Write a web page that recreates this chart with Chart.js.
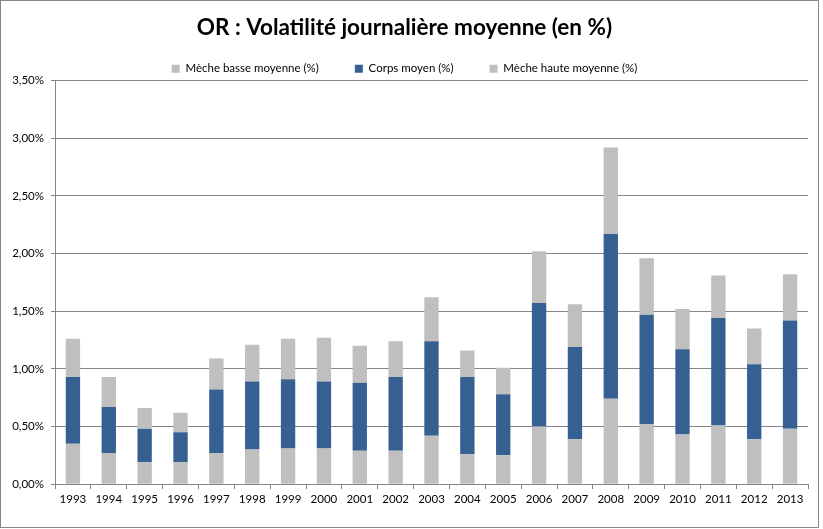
<!DOCTYPE html>
<html>
<head>
<meta charset="utf-8">
<script src="https://cdn.jsdelivr.net/npm/chart.js@4/dist/chart.umd.min.js"></script>
<style>
  body { margin: 0; background: #fff; }
  #wrap { position: absolute; left: 0; top: 0; width: 817px; height: 526px; border: 1px solid #868686; }
</style>
</head>
<body>
<div id="wrap"><canvas id="chart" width="817" height="526"></canvas></div>
<script>
const years = ['1993', '1994', '1995', '1996', '1997', '1998', '1999', '2000', '2001', '2002', '2003',
  '2004', '2005', '2006', '2007', '2008', '2009', '2010', '2011', '2012', '2013'];

// values in %
const mecheBasse = [0.35, 0.27, 0.19, 0.19, 0.27, 0.30, 0.31, 0.31, 0.29, 0.29, 0.42,
  0.26, 0.25, 0.50, 0.39, 0.74, 0.52, 0.43, 0.51, 0.39, 0.48];
const corps = [0.58, 0.40, 0.29, 0.26, 0.55, 0.59, 0.60, 0.58, 0.59, 0.64, 0.82,
  0.67, 0.53, 1.07, 0.80, 1.43, 0.95, 0.74, 0.93, 0.65, 0.94];
const mecheHaute = [0.33, 0.26, 0.18, 0.17, 0.27, 0.32, 0.35, 0.38, 0.32, 0.31, 0.38,
  0.23, 0.23, 0.45, 0.37, 0.75, 0.49, 0.35, 0.37, 0.31, 0.40];

const yTicks = [0, 0.5, 1, 1.5, 2, 2.5, 3, 3.5];

const GRAY = '#BFBFBF';
const BLUE = '#376092';
const LINE = '#868686';
const FONT = 'Lato';

const fmtPct = (v) => v.toFixed(2).replace('.', ',') + '%';

// legend needs wide gaps between items but not that much height
const legendFit = {
  id: 'legendFit',
  afterInit(chart) {
    const lg = chart.legend;
    const fit = lg.fit;
    lg.fit = function () {
      fit.call(this);
      this.height -= 4;
    };
  }
};

const ctx = document.getElementById('chart').getContext('2d');
new Chart(ctx, {
  type: 'bar',
  data: {
    labels: years,
    datasets: [
      { label: 'Mèche basse moyenne (%)', data: mecheBasse, backgroundColor: GRAY },
      { label: 'Corps moyen (%)', data: corps, backgroundColor: BLUE },
      { label: 'Mèche haute moyenne (%)', data: mecheHaute, backgroundColor: GRAY },
    ],
  },
  plugins: [legendFit],
  options: {
    responsive: false,
    animation: false,
    datasets: {
      bar: { categoryPercentage: 1, barPercentage: 0.4 }
    },
    layout: { padding: { left: 0, right: 10, top: 0, bottom: 18 } },
    plugins: {
      title: {
        display: true,
        text: 'OR : Volatilité journalière moyenne (en %)',
        color: '#000',
        font: { family: FONT, size: 22.5, weight: 'bold' },
        padding: { top: 13, bottom: -14 },
      },
      legend: {
        display: true,
        position: 'top',
        labels: {
          color: '#000',
          boxWidth: 8,
          boxHeight: 8,
          padding: 36,
          font: { family: FONT, size: 11.5 },
        },
      },
      tooltip: { enabled: false },
    },
    scales: {
      x: {
        stacked: true,
        grid: { display: true, offset: true, drawOnChartArea: false, color: LINE, tickLength: 5 },
        border: { display: true, color: LINE },
        ticks: { color: '#000', font: { family: FONT, size: 11.5 }, maxRotation: 0, padding: 3 },
      },
      y: {
        stacked: true,
        min: 0,
        max: 3.5,
        afterFit: (scale) => { scale.width = 54; },
        afterBuildTicks: (scale) => { scale.ticks = yTicks.map((v) => ({ value: v })); },
        grid: { color: LINE, tickLength: 4 },
        border: { display: true, color: LINE },
        ticks: {
          color: '#000',
          font: { family: FONT, size: 11.5 },
          padding: 7,
          callback: (v) => fmtPct(v),
        },
      },
    },
  },
});
</script>
</body>
</html>
